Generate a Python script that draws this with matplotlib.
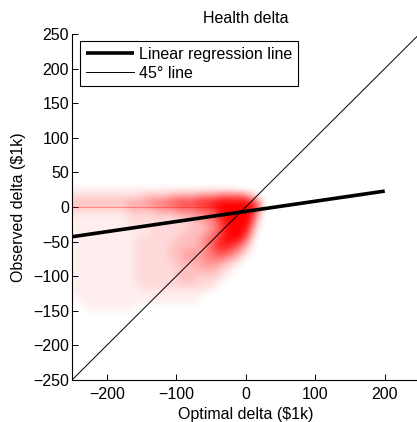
import numpy as np
import matplotlib
matplotlib.use("Agg")
import matplotlib.pyplot as plt

plt.rcParams['font.family'] = ['Liberation Sans', 'DejaVu Sans']

# Point density of the household cloud on a 10k x 10k grid.
# Columns: cell centres x = -245 ... 25, rows: cell centres y = 25 ... -155.
# Digits 0-9: relative point density in each cell.
density_x_centres = [-245, 25]
density_y_centres = [25, -155]
density_rows = [
    "1111111111111111111111100000",
    "2222222222333344445556666410",
    "3333333344455667778899999971",
    "2222222233334445556679999960",
    "1111111122222223344568999940",
    "1111111122222222233457999820",
    "1111111111122222333457999610",
    "1111111112222223334568998400",
    "1111111112222233334578875200",
    "1111111112222233444567653100",
    "1111111112222233444555431000",
    "1111111112222223334443210000",
    "1111111112222223333332100000",
    "1111111112222223332221000000",
    "1111111111222222222210000000",
    "1111111111111111111000000000",
    "0111111111111111110000000000",
    "0011111110000000000000000000",
    "0000000000000000000000000000",
]
density_alpha = [0, 0.07, 0.15, 0.25, 0.37, 0.5, 0.63, 0.76, 0.88, 1.0]

# Households reporting zero observed change
zero_x = [-250, -40]
zero_y = [0, 0]

# Fitted linear regression (endpoints)
reg_x = [-250, 200]
reg_y = [-43, 23]

# 45 degree reference
diag_x = [-250, 250]
diag_y = [-250, 250]

x_ticks = [-200, -100, 0, 100, 200]
y_ticks = [-250, -200, -150, -100, -50, 0, 50, 100, 150, 200, 250]

FS = 11.5
W, H = 417, 422
fig = plt.figure(figsize=(W / 100, H / 100), dpi=100)
ax = fig.add_axes([72 / W, 1 - 380 / H, 347.5 / W, 346 / H])

# Resample the coarse density grid onto a 1k raster and soften cell edges
grid = np.array([[int(c) for c in row] for row in density_rows])
alpha = np.take(density_alpha, grid)
ny, nx = grid.shape
gx = np.linspace(density_x_centres[0], density_x_centres[1], nx)
gy = np.linspace(density_y_centres[0], density_y_centres[1], ny)
fx = np.arange(-270, 50, 1.0) + 0.5
fy = np.arange(40, -175, -1.0) - 0.5
gy_up = np.concatenate([gy[::-1], [gy[0] + 6]])
rows_fine = np.array([np.interp(fx, gx, r, left=r[0], right=0) for r in alpha])
fine = np.array([np.interp(fy, gy_up, np.append(c[::-1], 0), left=0, right=0)
                 for c in rows_fine.T]).T
kernel = np.ones(15) / 15
fine = np.array([np.convolve(r, kernel, mode="same") for r in fine])
fine = np.array([np.convolve(c, kernel, mode="same") for c in fine.T]).T
raster = np.zeros(fine.shape + (4,))
raster[..., 0] = 1.0
raster[..., 3] = np.clip(fine, 0, 1)
ax.imshow(raster, extent=[-270, 50, -175, 40], origin="upper",
          interpolation="antialiased", aspect="auto", zorder=1)
ax.plot(zero_x, zero_y, color="#ff0000", alpha=0.35, lw=0.8, zorder=2)

ax.plot(reg_x, reg_y, color="black", lw=2.6, solid_capstyle="butt",
        label="Linear regression line", zorder=4)
ax.plot(diag_x, diag_y, color="black", lw=0.7, label="45\u00b0 line", zorder=3)

ax.set_xlim(-250, 250)
ax.set_ylim(-250, 250)
ax.set_xticks(x_ticks)
ax.set_yticks(y_ticks)
ax.tick_params(direction="in", length=4, width=0.7, labelsize=FS)
ax.tick_params(axis="y", pad=2)
ax.tick_params(axis="x", pad=5)
for s in ["top", "right"]:
    ax.spines[s].set_visible(False)
for s in ["left", "bottom"]:
    ax.spines[s].set_linewidth(0.8)

ax.set_title("Health delta", fontsize=FS, pad=8)
ax.set_xlabel("Optimal delta ($1k)", fontsize=FS, labelpad=4)
ax.set_ylabel("Observed delta ($1k)", fontsize=FS, labelpad=5)

leg = ax.legend(loc="upper left", bbox_to_anchor=(80 / W, 1 - 41 / H),
                bbox_transform=fig.transFigure, borderaxespad=0,
                fancybox=False, framealpha=1, edgecolor="black",
                fontsize=FS, handlelength=3.0, handletextpad=0.35,
                borderpad=0.35, labelspacing=0.25)
leg.get_frame().set_linewidth(0.8)

fig.savefig("out.png", dpi=100)
